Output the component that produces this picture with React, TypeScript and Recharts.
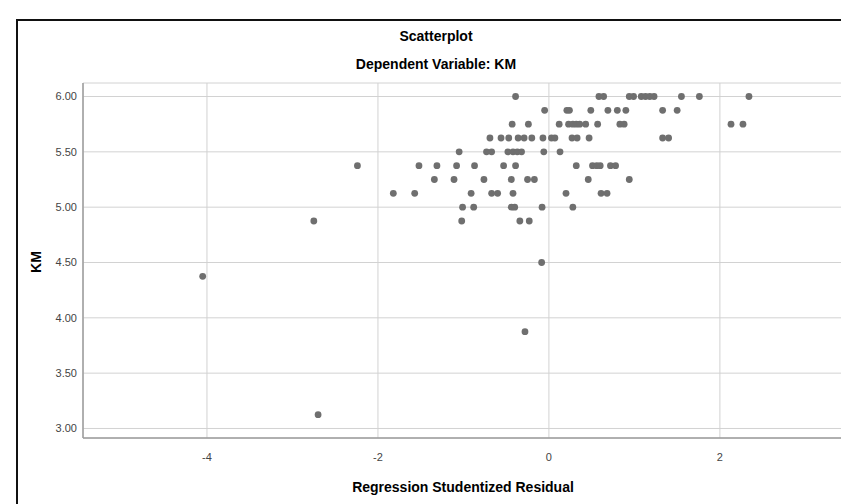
import React from 'react';
import { ScatterChart, Scatter, XAxis, YAxis, CartesianGrid } from 'recharts';

// studentized residuals, grouped by KM value
const kmLevels = [6.0, 5.875, 5.75, 5.625, 5.5, 5.375, 5.25, 5.125, 5.0, 4.875, 4.5, 4.375, 3.875, 3.125];

const resid600 = [-0.39, 0.585, 0.64, 0.94, 0.99, 1.08, 1.13, 1.18, 1.23, 1.55, 1.76, 2.34];
const resid5875 = [-0.05, 0.21, 0.24, 0.49, 0.69, 0.8, 0.9, 1.33, 1.5];
const resid575 = [-0.43, -0.24, 0.12, 0.23, 0.28, 0.32, 0.36, 0.43, 0.57, 0.83, 0.88, 2.13, 2.27];
const resid5625 = [-0.69, -0.56, -0.47, -0.36, -0.29, -0.2, -0.07, 0.03, 0.07, 0.27, 0.33, 0.47, 1.33, 1.4];
const resid550 = [-1.05, -0.73, -0.67, -0.48, -0.42, -0.37, -0.32, -0.06, 0.13];
const resid5375 = [-2.24, -1.52, -1.31, -1.08, -0.87, -0.53, -0.39, 0.32, 0.51, 0.56, 0.6, 0.72, 0.78];
const resid525 = [-1.34, -1.11, -0.76, -0.44, -0.25, -0.17, 0.46, 0.94];
const resid5125 = [-1.82, -1.57, -0.91, -0.67, -0.6, -0.42, 0.2, 0.61, 0.68];
const resid500 = [-1.01, -0.88, -0.44, -0.4, -0.08, 0.28];
const resid4875 = [-2.75, -1.02, -0.34, -0.23];
const resid450 = [-0.085];
const resid4375 = [-4.05];
const resid3875 = [-0.28];
const resid3125 = [-2.7];

const residRows = [
  resid600, resid5875, resid575, resid5625, resid550, resid5375, resid525,
  resid5125, resid500, resid4875, resid450, resid4375, resid3875, resid3125,
];

const xTicks = [-4, -2, 0, 2];
const yTicks = [3.0, 3.5, 4.0, 4.5, 5.0, 5.5, 6.0];

const points = residRows.flatMap((row, i) => row.map((r) => ({ resid: r, km: kmLevels[i] })));

const font = '"Liberation Sans", Arial, sans-serif';

const Dot = (props: any) => <circle cx={props.cx} cy={props.cy} r={3.4} fill="#6f6f6f" />;

export default function App() {
  return (
    <div
      style={{
        position: 'absolute',
        left: 0,
        top: 0,
        width: 841,
        height: 504,
        overflow: 'hidden',
        background: '#fff',
        fontFamily: font,
      }}
    >
      <div
        style={{
          position: 'absolute',
          left: 16,
          top: 19,
          width: 900,
          height: 600,
          borderTop: '2px solid #111',
          borderLeft: '2px solid #111',
        }}
      />
      <div style={{ position: 'absolute', left: 236, width: 400, top: 28, textAlign: 'center', fontSize: 14, fontWeight: 'bold' }}>
        Scatterplot
      </div>
      <div style={{ position: 'absolute', left: 236, width: 400, top: 56, textAlign: 'center', fontSize: 14, fontWeight: 'bold' }}>
        Dependent Variable: KM
      </div>
      <div style={{ position: 'absolute', left: 263, width: 400, top: 479, textAlign: 'center', fontSize: 14, fontWeight: 'bold' }}>
        Regression Studentized Residual
      </div>
      <div
        style={{
          position: 'absolute',
          left: 36,
          top: 262,
          transform: 'translate(-50%, -50%) rotate(-90deg)',
          fontSize: 14,
          fontWeight: 'bold',
        }}
      >
        KM
      </div>
      <div style={{ position: 'absolute', left: 0, top: 0 }}>
        <ScatterChart width={860} height={504} margin={{ top: 83, right: 17, bottom: 0, left: 0 }}>
          <CartesianGrid stroke="#d2d2d2" strokeWidth={1} />
          <XAxis
            type="number"
            dataKey="resid"
            domain={[-5.45, 3.44]}
            ticks={xTicks}
            allowDataOverflow
            height={66}
            tickLine={false}
            tickMargin={9}
            axisLine={{ stroke: '#9d9d9d', strokeWidth: 1.5 }}
            tick={{ fontSize: 11, fill: '#444', fontFamily: font }}
          />
          <YAxis
            type="number"
            dataKey="km"
            domain={[2.914, 6.122]}
            ticks={yTicks}
            allowDataOverflow
            width={83}
            tickLine={false}
            tickMargin={0}
            tickFormatter={(v: number) => v.toFixed(2)}
            axisLine={{ stroke: '#9d9d9d', strokeWidth: 1.5 }}
            tick={{ fontSize: 11, fill: '#444', fontFamily: font }}
          />
          <Scatter data={points} shape={Dot} isAnimationActive={false} />
        </ScatterChart>
      </div>
    </div>
  );
}
